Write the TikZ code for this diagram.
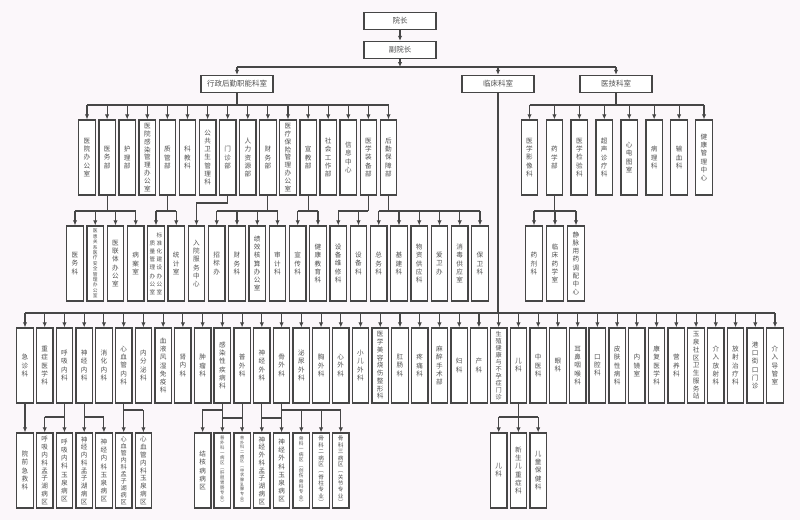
\documentclass[tikz,border=0pt]{standalone}
\usepackage{fontspec}
\setmainfont{Noto Sans CJK SC}
\usetikzlibrary{arrows.meta}
\definecolor{bgc}{RGB}{251,247,250}
\definecolor{ln}{RGB}{70,70,70}
\definecolor{tx}{RGB}{80,80,80}
\makeatletter
\newcount\vtn \newdimen\vtb \newdimen\vtf
\newcommand\vtc[4]{\vbox{\fontsize{#2}{#3}\selectfont\baselineskip=#3\relax\lineskiplimit=-20pt\lineskip=0pt\relax
 \@tfor\vt@c:=#4\do{\hbox to #1{\hss\vt@c\hss}}}}
\newcommand\vt[1]{\edef\vt@s{#1}\expandafter\vt@a\expandafter{\vt@s}}
\def\vt@a#1{\vtn=0 \@tfor\vt@c:=#1\do{\advance\vtn by 1 }%
 \vtb=70pt \divide\vtb by \vtn
 \ifdim\vtb>8.2pt \vtb=8.2pt\fi
 \vtf=0.88\vtb \ifdim\vtf>6.6pt \vtf=6.6pt\fi
 \vtc{10pt}{\the\vtf}{\the\vtb}{#1}}
\makeatother
% parent, child prefix, first, last, bus y
\newcommand\grp[5]{%
 \draw[con] (#1.south) -- (#1.south |- 0,#5);
 \draw[con] (#2#3.north |- 0,#5) -- (#2#4.north |- 0,#5);
 \draw[con] (#2#3.north |- 0,#5) -- (#1.south |- 0,#5);
 \foreach \k in {#3,...,#4} \draw[arr] (#2\k.north |- 0,#5) -- (#2\k.north);}
\begin{document}
\begin{tikzpicture}[x=1pt,y=-1pt,
 cell/.style={draw=ln, line width=1.3pt, fill=white, inner sep=0pt, text=tx},
 hcell/.style={cell, minimum width=72pt, minimum height=17pt, font=\fontsize{7.5}{9}\selectfont},
 vcell/.style={cell, minimum width=16.5pt, minimum height=75pt},
 con/.style={draw=ln, line width=1.1pt},
 arr/.style={con, -{Latex[length=5pt,width=4.4pt]}}]
\useasboundingbox (0,0) rectangle (800,520);
\fill[bgc] (0,0) rectangle (800,520);

% top levels
\node[hcell] (t1) at (400,21) {院长};
\node[hcell] (t2) at (400,50) {副院长};
\node[hcell] (xz) at (237,84) {行政后勤职能科室};
\node[hcell] (lc) at (498,84) {临床科室};
\node[hcell] (yj) at (616,84) {医技科室};
\draw[arr] (t1) -- (t2);
\draw[arr] (t2.south) -- (t2.south |- 0,67);
\draw[con] (xz.north |- 0,67) -- (yj.north |- 0,67);
\foreach \n in {xz,lc,yj} \draw[arr] (\n.north |- 0,67) -- (\n.north);

% administrative level 2
\foreach \nm [count=\i] in {医院办公室,医务部,护理部,医院感染管理办公室,质管部,科教科,公共卫生管理科,门诊部,人力资源部,财务部,医疗保险管理办公室,宣教部,社会工作部,信息中心,医学装备部,后勤保障部}
 \node[vcell] (a\i) at ({87+20.1*(\i-1)},157.5) {\vt{\nm}};
\draw[con] (xz.south) -- (xz.south |- 0,105);
\draw[con] (a1.north |- 0,105) -- (a16.north |- 0,105);
\foreach \i in {1,...,16} \draw[arr] (a\i.north |- 0,105) -- (a\i.north);

% administrative level 3
\foreach \nm [count=\i] in {医务科,医患关系医疗安全管理办公室,医联体办公室,病案室}
 \node[vcell] (b\i) at ({75+20.25*(\i-1)},263.5) {\vt{\nm}};
\node[vcell] (b5) at ({75+20.25*4},263.5) {\hbox{\vtc{7pt}{5.6pt}{8.2pt}{质量管理办公室}\vtc{7pt}{5.6pt}{8.2pt}{标准化建设办公室}}};
\foreach \nm [count=\i from 6] in {统计室,入院服务中心,招标办,财务科,绩效核算办公室,审计科,宣传科,健康教育科,设备维修科,设备科,总务科,基建科,物资供应科,爱卫办,消毒供应室,保卫科}
 \node[vcell] (b\i) at ({75+20.25*(\i-1)},263.5) {\vt{\nm}};
\grp{a2}{b}{1}{4}{211}
\grp{a5}{b}{5}{6}{211}
\draw[arr] (a8.south) -- (a8.south |- 0,203) -| (b7.north);
\grp{a10}{b}{8}{11}{211}
\grp{a12}{b}{12}{13}{211}
\grp{a15}{b}{14}{15}{211}
\grp{a16}{b}{16}{21}{211}

% medical technology
\foreach \nm [count=\i] in {医学影像科,药学部,医学检验科,超声诊疗科,心电图室,病理科,输血科,健康管理中心}
 \node[vcell] (m\i) at ({529.5+24.93*(\i-1)},157.5) {\vt{\nm}};
\draw[con] (yj.south) -- (yj.south |- 0,105);
\draw[con] (m1.north |- 0,105) -- (m8.north |- 0,105);
\foreach \i in {1,...,8} \draw[arr] (m\i.north |- 0,105) -- (m\i.north);
\foreach \nm/\x [count=\i] in {药剂科/534,临床药学室/555,静脉用药调配中心/576}
 \node[vcell] (p\i) at (\x,263.5) {\vt{\nm}};
\grp{m2}{p}{1}{3}{211}

% clinical departments
\foreach \nm [count=\i] in {急诊科,重症医学科,呼吸内科,神经内科,消化内科,心血管内科,内分泌科,血液风湿免疫科,肾内科,肿瘤科,感染性疾病科,普外科,神经外科,骨外科,泌尿外科,胸外科,心外科,小儿外科,医学美容烧伤整形科,肛肠科,疼痛科,麻醉手术部,妇科,产科,生殖健康与不孕症门诊,儿科,中医科,眼科,耳鼻咽喉科,口腔科,皮肤性病科,内镜室,康复医学科,营养科,玉泉社区卫生服务站,介入放射科,放射治疗科,港口街口门诊,介入导管室}
 \node[vcell] (c\i) at ({25+19.737*(\i-1)},365.5) {\vt{\nm}};
\draw[con] (lc.south) -- (lc.south |- 0,313);
\draw[con] (c1.north |- 0,313) -- (c39.north |- 0,313);
\foreach \i in {1,...,39} \draw[arr] (c\i.north |- 0,313) -- (c\i.north);

% clinical level 4
\foreach \g/\nm in {0/院前急救科,1/呼吸内科孟子湖病区,2/呼吸内科玉泉病区,3/神经内科孟子湖病区,4/神经内科玉泉病区,5/心血管内科孟子湖病区,6/心血管内科玉泉病区,9/结核病病区,10/普外科一病区︵肝胆胃肠专业︶,11/普外科二病区︵甲状腺乳腺专业︶,12/神经外科孟子湖病区,13/神经外科玉泉病区,14/骨科一病区︵创伤骨科专业︶,15/骨科二病区︵脊柱专业︶,16/骨科三病区︵关节专业︶,24/儿科,25/新生儿重症科,26/儿童保健科}
 \node[vcell] (d\g) at ({25+19.737*\g},470.5) {\vt{\nm}};
\draw[arr] (c1) -- (d0);
\grp{c3}{d}{1}{2}{417}
\grp{c4}{d}{3}{4}{417}
\grp{c6}{d}{5}{6}{410}
\draw[con] (c11.south) -- (c11.south |- 0,418);
\draw[arr] (c11.south |- 0,410) -| (d9.north);
\grp{c12}{d}{10}{11}{418}
\grp{c13}{d}{12}{13}{418}
\draw[con] (c14.south) -- (c14.south |- 0,418);
\grp{c14}{d}{14}{16}{410}
\grp{c26}{d}{24}{26}{417}
\end{tikzpicture}
\end{document}
